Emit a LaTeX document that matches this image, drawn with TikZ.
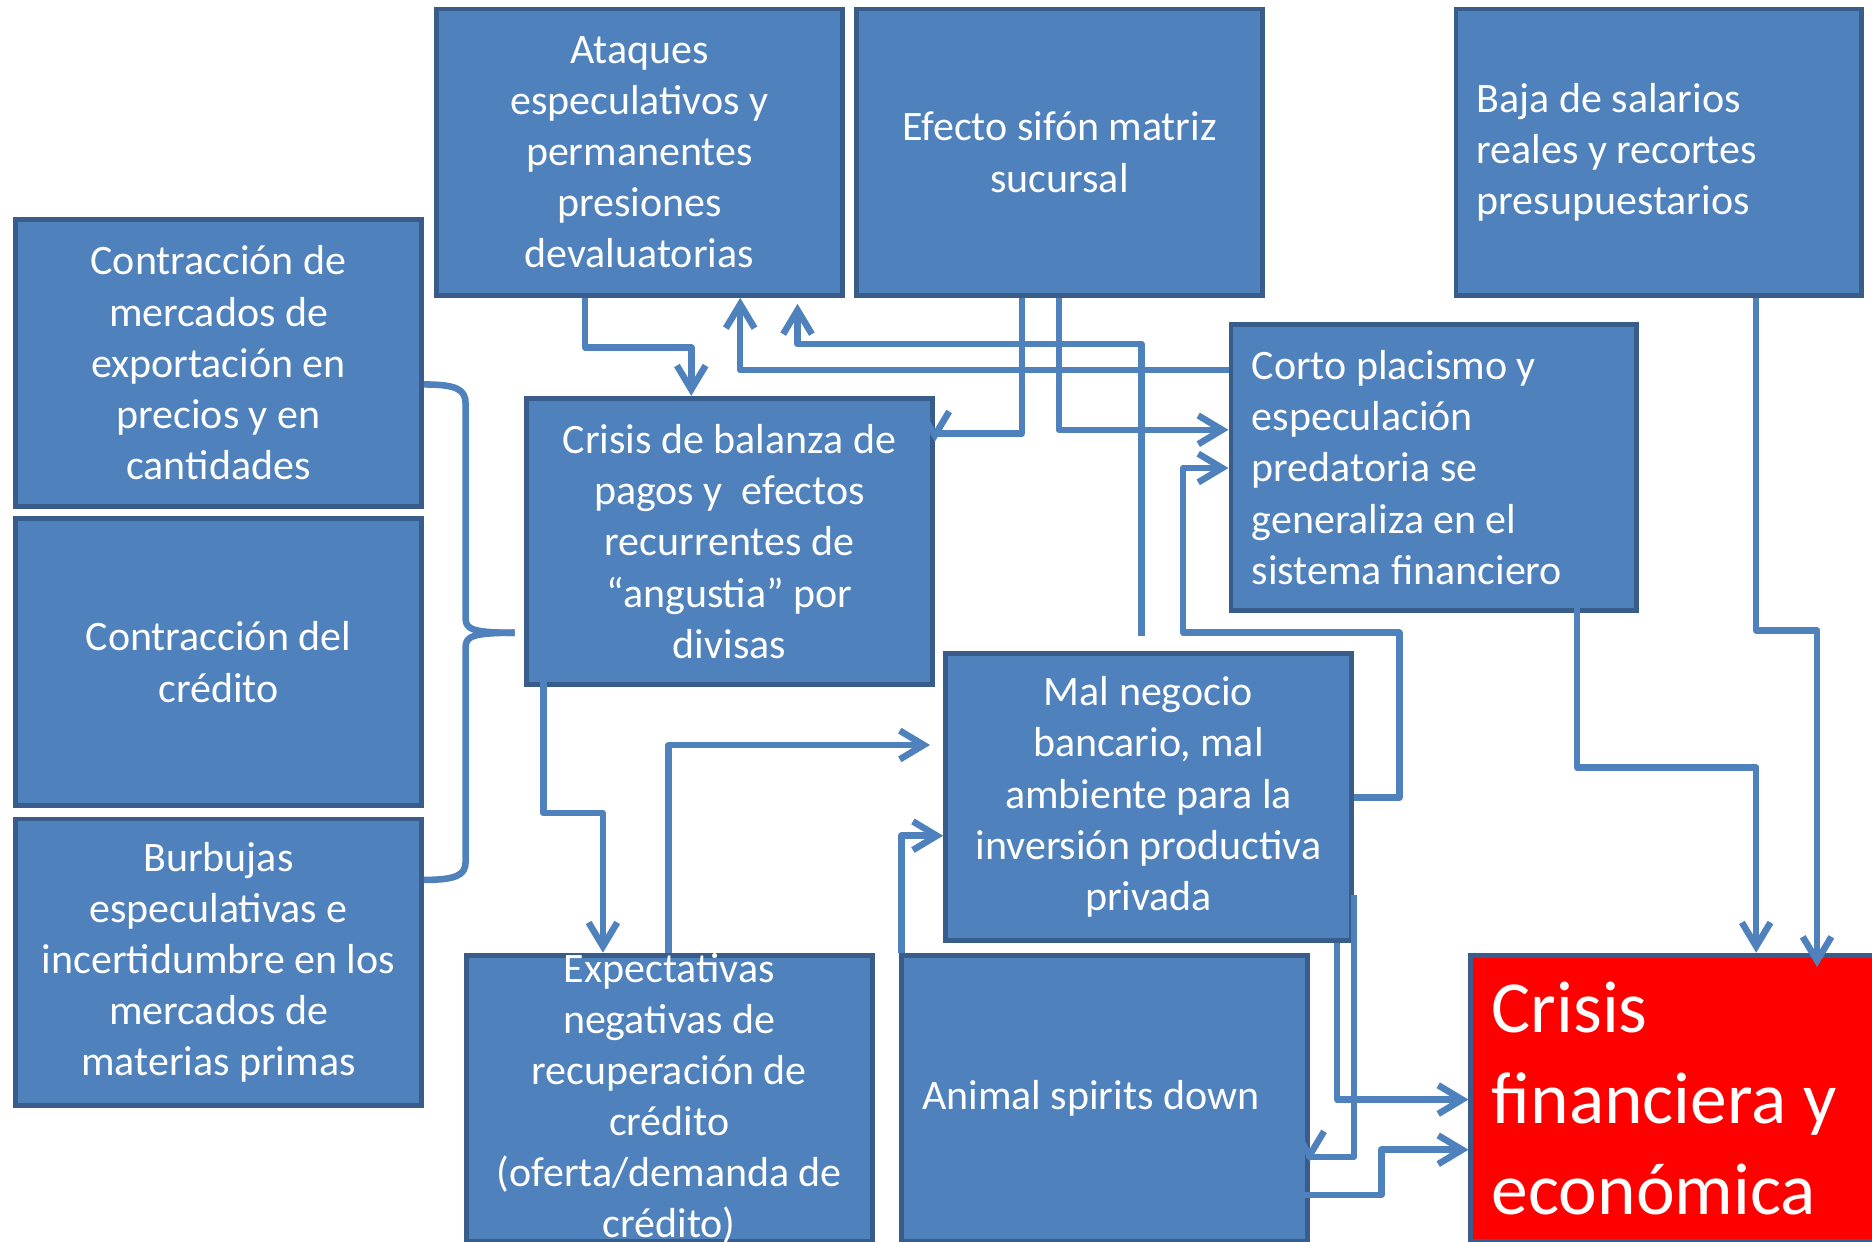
\documentclass[tikz,border=0pt]{standalone}
\usepackage{fontspec}
\setmainfont{Carlito}
\usetikzlibrary{arrows.meta,calc}
\definecolor{boxblue}{HTML}{4F81BD}
\definecolor{boxedge}{HTML}{385D8A}
\definecolor{alertred}{HTML}{FF0000}

\begin{document}
\begin{tikzpicture}[x=0.1mm, y=-0.1mm,
                        every node/.style={font=\fontsize{10}{12.2}\selectfont, text=white},
                        box/.style={rectangle, draw=boxedge, fill=boxblue, line width=0.4mm, minimum width=34mm, minimum height=24mm, inner sep=0pt, align=center},
                        leftbox/.style={box, align=left, text width=30.5mm, execute at begin node={\spaceskip=0pt\xspaceskip=0pt\relax}},
                        link/.style={draw=boxblue, line width=0.55mm, line join=round},
                        arr/.style={link, -{Straight Barb[length=2mm,width=2.4mm]}}]

                        \useasboundingbox (0,0) rectangle (1568,1040);

                        % Causes
                        \node[box] (ataq) at (535.5,127.5) {Ataques\\especulativos y\\permanentes\\presiones\\devaluatorias}; % Top row
                        \node[box] (sifon) at (887.5,127.5) {Efecto sifón matriz\\sucursal};
                        \node[leftbox] (baja) at (1389.5,127.5) {Baja de salarios\\reales y recortes\\presupuestarios};
                        \node[box] (mercados) at (183,304) {Contracción de\\mercados de\\exportación en\\precios y en\\cantidades}; % Left column
                        \node[box] (credito) at (183,554.5) {Contracción del\\crédito};
                        \node[box] (burbujas) at (183,806) {Burbujas\\especulativas e\\incertidumbre en los\\mercados de\\materias primas};

                        % Effects
                        \node[box] (balanza) at (611,453.5) {Crisis de balanza de\\pagos y\ \ efectos\\recurrentes de\\“angustia” por\\divisas};
                        \node[leftbox] (corto) at (1201,391.5) {Corto placismo y\\especulación\\predatoria se\\generaliza en el\\sistema financiero};
                        \node[box] (malneg) at (962,667.5) {Mal negocio\\bancario, mal\\ambiente para la\\inversión productiva\\privada};
                        \node[box] (expec) at (560.5,920) {}; % Text overflows the box
                        \node[align=center] (expectext) at (expec.center) {Expectativas\\negativas de\\recuperación de\\crédito\\(oferta/demanda de\\crédito)};
                        \node[leftbox] (animal) at (925,920) {Animal spirits down};
                        \node[leftbox, fill=alertred, font=\fontsize{17.5}{21.6}\selectfont] (crisis) at (1402,920) {Crisis\\financiera y\\económica}; % Outcome

                        % Brace round the left column
                        \coordinate (bracetip) at (431,530);
                        \draw[link] (mercados.east |- 0,322) .. controls (382,322) and (390,326) .. (390,338) -- (390,518) .. controls (390,527) and (396,530) .. (bracetip);
                        \draw[link] (bracetip) .. controls (396,530) and (390,533) .. (390,542) -- (390,722) .. controls (390,733) and (382,737) .. (burbujas.east |- 0,737);

                        % Define edges
                        \draw[arr] (ataq.south -| 490,0) |- (579,291) -- (balanza.north -| 579,0);
                        \draw[arr] (corto.west |- 0,310) -| (ataq.south -| 620,0);
                        \draw[arr, shorten <=1.3mm, shorten >=0.5mm] (malneg.north -| 956,0) |- (668,288) -- (ataq.south -| 668,0);
                        \draw[arr] (sifon.south -| 856,0) |- (balanza.east |- 0,363) -- (balanza.east |- 0,370);
                        \draw[arr] (sifon.south -| 887,0) |- (corto.west |- 0,360);
                        \draw[arr] (malneg.east |- 0,668) -| (1172,530) -| (991,392) -- (corto.west |- 0,392);
                        \draw[arr, shorten >=-1.2mm] (baja.south -| 1471,0) |- (1522,528) -- (crisis.north -| 1522,0);
                        \draw[arr] ($(corto.south)+(120,-25)$) |- (1471,643) -- (crisis.north -| 1471,0);
                        \draw[arr] ($(balanza.south)+(-156,-12)$) |- (505,681) -- (expec.north -| 505,0);
                        \draw[arr, shorten >=1.1mm] (expec.north -| 560,0) |- (malneg.west |- 0,624);
                        \draw[arr] (animal.north -| 755,0) |- (malneg.west |- 0,700);
                        \draw[arr] (malneg.south -| 1120,0) |- (crisis.west |- 0,921);
                        \draw[arr] (malneg.east |- 0,750) |- (animal.east |- 0,969) -- (animal.east |- 0,973);
                        \draw[arr] ($(animal.east)+(-11,81)$) -| (1157,963) -- (crisis.west |- 0,963);
                    \end{tikzpicture}
\end{document}
